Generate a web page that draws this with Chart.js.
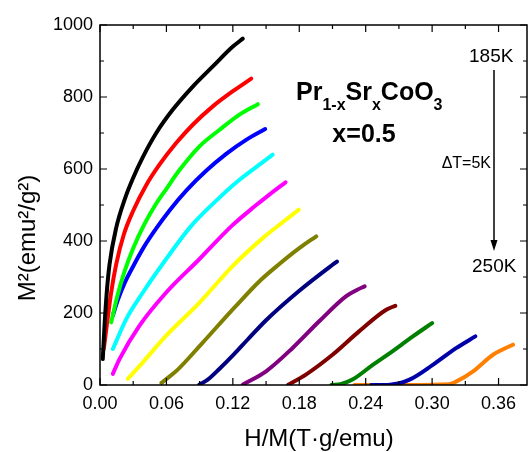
<!DOCTYPE html>
<html>
<head>
<meta charset="utf-8">
<script src="https://cdn.jsdelivr.net/npm/chart.js@4.4.1/dist/chart.umd.min.js"></script>
<style>
  body { margin: 0; background: #fff; }
  canvas { display: block; }
</style>
</head>
<body>
<canvas id="myChart" width="528" height="452"></canvas>
<script>
// H/M (T g/emu) and M^2 (emu^2/g^2) for each temperature
var h185 = [0.0025, 0.0041, 0.0061, 0.0086, 0.0145, 0.0228, 0.0296, 0.0387, 0.0508, 0.0658, 0.0838, 0.1019, 0.120, 0.129];
var m185 = [72, 165, 257, 335, 435, 520, 573, 633, 700, 765, 829, 885, 940, 962];
var h190 = [0.0034, 0.0061, 0.0101, 0.0146, 0.0215, 0.030, 0.0417, 0.0537, 0.0688, 0.0838, 0.1019, 0.120, 0.1366];
var m190 = [100, 165, 257, 335, 418, 484, 555, 612, 672, 723, 774, 816, 851];
var h195 = [0.0101, 0.0155, 0.0221, 0.030, 0.040, 0.050, 0.060, 0.0718, 0.0899, 0.108, 0.126, 0.1426];
var m195 = [174, 245, 315, 380, 446, 500, 545, 597, 663, 709, 751, 780];
var h200 = [0.0116, 0.016, 0.0225, 0.030, 0.040, 0.0508, 0.0628, 0.0779, 0.0959, 0.114, 0.132, 0.1492];
var m200 = [193, 235, 285, 330, 385, 435, 485, 540, 595, 642, 681, 711];
var h205 = [0.0116, 0.0237, 0.0387, 0.0598, 0.0824, 0.106, 0.126, 0.144, 0.156];
var m205 = [100, 183, 257, 350, 442, 515, 570, 612, 640];
var h210 = [0.0116, 0.0176, 0.0357, 0.0598, 0.0899, 0.119, 0.140, 0.153, 0.1676];
var m210 = [31, 72, 165, 257, 350, 442, 497, 529, 563];
var h215 = [0.0251, 0.0387, 0.0598, 0.0899, 0.120, 0.147, 0.165, 0.1796];
var m215 = [17, 63, 137, 229, 331, 408, 452, 487];
var h220 = [0.0555, 0.061, 0.070, 0.092, 0.122, 0.145, 0.162, 0.180, 0.1953];
var m220 = [6, 19, 42, 115, 217, 291, 336, 380, 413];
var h225 = [0.0896, 0.097, 0.108, 0.120, 0.133, 0.150, 0.180, 0.210, 0.214];
var m225 = [1, 14, 45, 82, 125, 180, 262, 334, 343];
var h230 = [0.129, 0.132, 0.150, 0.174, 0.198, 0.2224, 0.232, 0.239];
var m230 = [1, 6, 38, 103, 177, 247, 264, 274];
var h235 = [0.170, 0.186, 0.210, 0.234, 0.2585, 0.2667];
var m235 = [1, 29, 84, 149, 209, 220];
var h240 = [0.209, 0.218, 0.228, 0.2464, 0.2615, 0.2826, 0.300];
var m240 = [0, 3, 15, 56, 88, 135, 172];
var h245 = [0.245, 0.262, 0.2796, 0.3006, 0.322, 0.339];
var m245 = [0, 1, 15, 56, 103, 135];
var h250 = [0.230, 0.280, 0.315, 0.322, 0.337, 0.355, 0.373];
var m250 = [0, 0, 2, 10, 38, 84, 112];

var temps = [185, 190, 195, 200, 205, 210, 215, 220, 225, 230, 235, 240, 245, 250];
var hSeries = [h185, h190, h195, h200, h205, h210, h215, h220, h225, h230, h235, h240, h245, h250];
var mSeries = [m185, m190, m195, m200, m205, m210, m215, m220, m225, m230, m235, m240, m245, m250];
var colors = ["#000000", "#ff0000", "#00ff00", "#0000ff", "#00ffff", "#ff00ff", "#ffff00",
              "#808000", "#000080", "#800080", "#800000", "#008000", "#0000a8", "#ff8000"];

var xTicks = [0, 0.06, 0.12, 0.18, 0.24, 0.30, 0.36];
var xMinor = [0.03, 0.09, 0.15, 0.21, 0.27, 0.33];
var yTicks = [0, 200, 400, 600, 800, 1000];
var yMinor = [100, 300, 500, 700, 900];

var FONT = "'Liberation Sans', Arial, sans-serif";

var datasets = temps.map(function (t, i) {
    return {
        label: t + "K",
        data: hSeries[i].map(function (h, j) { return { x: h, y: mSeries[i][j] }; }),
        borderColor: colors[i],
        backgroundColor: colors[i],
        borderWidth: 4,
        borderCapStyle: "round",
        borderJoinStyle: "round",
        pointRadius: 0,
        cubicInterpolationMode: "monotone",
        fill: false
    };
});

var framePlugin = {
    id: "frame",
    afterDraw: function (chart) {
        var c = chart.ctx, a = chart.chartArea;
        var xs = chart.scales.x, ys = chart.scales.y;
        c.save();
        c.strokeStyle = "#000";
        c.lineWidth = 1.5;
        c.strokeRect(a.left, a.top, a.right - a.left, a.bottom - a.top);
        c.lineWidth = 1.2;
        c.beginPath();
        function xt(v, len) {
            var p = xs.getPixelForValue(v);
            c.moveTo(p, a.bottom); c.lineTo(p, a.bottom - len);
            c.moveTo(p, a.top); c.lineTo(p, a.top + len);
        }
        function yt(v, len) {
            var p = ys.getPixelForValue(v);
            c.moveTo(a.left, p); c.lineTo(a.left + len, p);
            c.moveTo(a.right, p); c.lineTo(a.right - len, p);
        }
        xTicks.forEach(function (v) { xt(v, 7); });
        xMinor.forEach(function (v) { xt(v, 4); });
        yTicks.forEach(function (v) { yt(v, 7); });
        yMinor.forEach(function (v) { yt(v, 4); });
        c.stroke();

        // axis titles
        c.fillStyle = "#000";
        c.font = "24px " + FONT;
        c.textAlign = "center";
        c.textBaseline = "middle";
        c.fillText("H/M(T\u00b7g/emu)", 319, 439);
        c.save();
        c.translate(28, 238);
        c.rotate(-Math.PI / 2);
        c.fillText("M\u00b2(emu\u00b2/g\u00b2)", 0, 0);
        c.restore();

        // compound label with subscripts
        c.textAlign = "left";
        c.textBaseline = "alphabetic";
        var parts = [["Pr", 0], ["1-x", 1], ["Sr", 0], ["x", 1], ["CoO", 0], ["3", 1]];
        var x = 296;
        parts.forEach(function (p) {
            c.font = (p[1] ? "bold 16px " : "bold 25px ") + FONT;
            c.fillText(p[0], x, p[1] ? 110 : 100);
            x += c.measureText(p[0]).width;
        });
        c.font = "bold 25px " + FONT;
        c.textAlign = "center";
        c.fillText("x=0.5", 364, 142);

        c.font = "19px " + FONT;
        c.textAlign = "left";
        c.fillText("185K", 469, 62);
        c.fillText("250K", 472, 272);
        c.font = "16px " + FONT;
        c.textAlign = "right";
        c.fillText("\u0394T=5K", 491, 168);

        // arrow
        c.lineWidth = 1.5;
        c.beginPath();
        c.moveTo(494, 70); c.lineTo(494, 243);
        c.stroke();
        c.beginPath();
        c.moveTo(494, 251); c.lineTo(490.5, 240); c.lineTo(497.5, 240); c.closePath();
        c.fill();
        c.restore();
    }
};

var ctx = document.getElementById("myChart").getContext("2d");
var myChart = new Chart(ctx, {
    type: "line",
    data: { datasets: datasets },
    plugins: [framePlugin],
    options: {
        responsive: false,
        animation: false,
        devicePixelRatio: 1,
        layout: { padding: { top: 25, right: 1, left: 0, bottom: 0 } },
        plugins: { legend: { display: false }, tooltip: { enabled: false } },
        scales: {
            x: {
                type: "linear",
                min: 0,
                max: 0.3857,
                afterBuildTicks: function (s) { s.ticks = xTicks.map(function (v) { return { value: v }; }); },
                afterFit: function (s) { s.height = 67; },
                grid: { display: false, drawTicks: false },
                border: { display: false },
                ticks: {
                    color: "#000",
                    font: { family: FONT, size: 18 },
                    padding: 8,
                    maxRotation: 0,
                    autoSkip: false,
                    callback: function (v) { return Number(v).toFixed(2); }
                }
            },
            y: {
                type: "linear",
                min: 0,
                max: 1000,
                afterBuildTicks: function (s) { s.ticks = yTicks.map(function (v) { return { value: v }; }); },
                afterFit: function (s) { s.width = 100; },
                grid: { display: false, drawTicks: false },
                border: { display: false },
                ticks: {
                    color: "#000",
                    font: { family: FONT, size: 18 },
                    padding: 7,
                    autoSkip: false,
                    callback: function (v) { return String(v); }
                }
            }
        }
    }
});
</script>
</body>
</html>
